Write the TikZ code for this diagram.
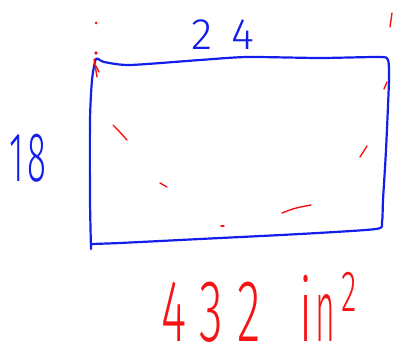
\documentclass[tikz,border=0pt]{standalone}
\usepackage{fontspec}
\setmainfont{Fira Sans}[UprightFont={* Light}]
\definecolor{penblue}{RGB}{20,30,235}
\definecolor{penred}{RGB}{245,20,20}

\begin{document}
\begin{tikzpicture}[x=1pt, y=-1pt, line cap=round, line join=round,
    blueink/.style={penblue, line width=2.2pt},
    redink/.style={penred, line width=1.4pt}]
  \useasboundingbox (0,0) rectangle (393,345);

  % --- the rectangle, drawn by hand ---
  \draw[blueink] plot[smooth, tension=0.4] coordinates
    {(91,249) (90,200) (90,120) (92,80) (96,59) (104,62) (130,65) (200,60)
     (247,57) (320,58) (380,57) (388,60) (389,80) (386,150) (383,200)
     (382,222) (376,229) (300,234) (200,239) (120,243) (91,244)};

  % --- side lengths and the area ---
  \node[penblue, inner sep=0pt, font=\fontsize{44}{46}\selectfont] (topside) at (223,35)
    {2\hspace{19pt}4};
  \node[penblue, inner sep=0pt, font=\fontsize{70}{72}\selectfont, xscale=0.5] (leftside) at (28,158)
    {1\hspace{8pt}8};
  \node[penred, inner sep=0pt, font=\fontsize{88}{90}\selectfont, xscale=0.55] (area) at (259,307)
    {4\hspace{24pt}3\hspace{26pt}2\hspace{70pt}i\hspace{6pt}\scalebox{0.7}[1]{n}\hspace{10pt}\raisebox{30pt}{\fontsize{58}{58}\selectfont 2}};

  % --- stray red marks ---
  \fill[penred] (96,23) circle (1.5);
  \fill[penred] (96,53) circle (1.8);
  \draw[redink] (94,59) -- (97,77);
  \draw[redink] (96,66) -- (99,72);
  \draw[redink] (390,27) -- (392,13);
  \draw[redink] (384,89) -- (387,82);
  \draw[redink] (113,125) .. controls (118,130) .. (127,140);
  \draw[redink] (160,183) -- (167,187);
  \draw[redink] (360,157) -- (367,146);
  \draw[redink] (282,213) .. controls (295,208) .. (311,205);
  \draw[redink] (221,226) -- (224,226);

\end{tikzpicture}
\end{document}
